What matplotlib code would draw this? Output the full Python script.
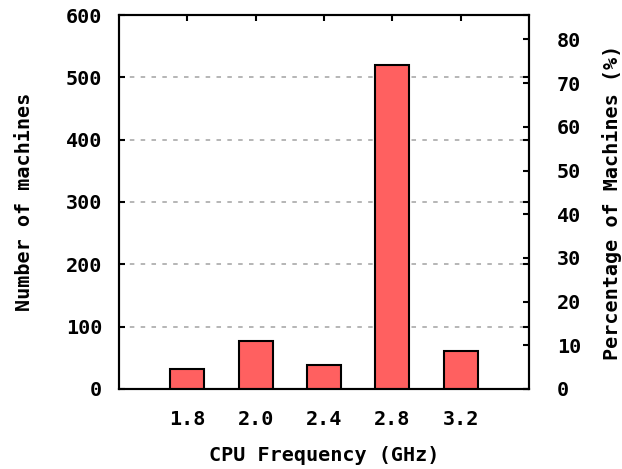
import matplotlib.pyplot as plt

# CPU frequency distribution
freqs = ["1.8", "2.0", "2.4", "2.8", "3.2"]
machines = [32, 77, 38, 520, 61]

Y_MAX = 600
Y2_MAX = 85.6  # percentage that matches 600 machines on the right axis

plt.rcParams['font.family'] = 'DejaVu Sans Mono'
plt.rcParams['font.weight'] = 'bold'
plt.rcParams['font.size'] = 14.5

fig = plt.figure(figsize=(6.22, 4.69), dpi=100)
ax = fig.add_axes([0.1913, 0.1706, 0.6592, 0.7974])

x = list(range(1, len(freqs) + 1))
ax.bar(x, machines, width=0.5, color='#ff6060', edgecolor='black', linewidth=1.5, zorder=3)

ax.set_xlim(0, 6)
ax.set_ylim(0, Y_MAX)
ax.set_xticks(x)
ax.set_xticklabels(freqs)
ax.set_yticks(range(0, 601, 100))
ax.tick_params(axis='x', direction='in', length=4, width=1.5, top=True, bottom=False, pad=15)
for lbl in ax.get_xticklabels() + ax.get_yticklabels():
    lbl.set_fontweight('bold')

ax.yaxis.grid(True, color='#b0b0b0', linestyle=(0, (2.5, 3.5)), linewidth=1.3)
ax.set_axisbelow(True)
for s in ax.spines.values():
    s.set_linewidth(1.5)

ax.set_xlabel('CPU Frequency (GHz)', fontweight='bold')
ax.xaxis.set_label_coords(0.5, -0.152)
ax.set_ylabel('Number of machines', fontweight='bold')
ax.yaxis.set_label_coords(-0.208, 0.5)

ax2 = ax.twinx()
ax2.set_ylim(0, Y2_MAX)
ax2.set_yticks(range(0, 81, 10))
ax2.tick_params(axis='y', direction='in', length=4, width=1.5, pad=20)
for lbl in ax2.get_yticklabels():
    lbl.set_fontweight('bold')
ax2.set_ylabel('Percentage of Machines (%)', fontweight='bold')
ax2.yaxis.set_label_coords(1.178, 0.5)
for s in ax2.spines.values():
    s.set_linewidth(1.5)

# left axis ticks mirrored on the right spine (twinx turns them off)
ax.tick_params(axis='y', direction='in', length=4, width=1.5, left=True, right=True,
               labelleft=True, labelright=False, pad=12)

plt.savefig('out.png', dpi=100)
